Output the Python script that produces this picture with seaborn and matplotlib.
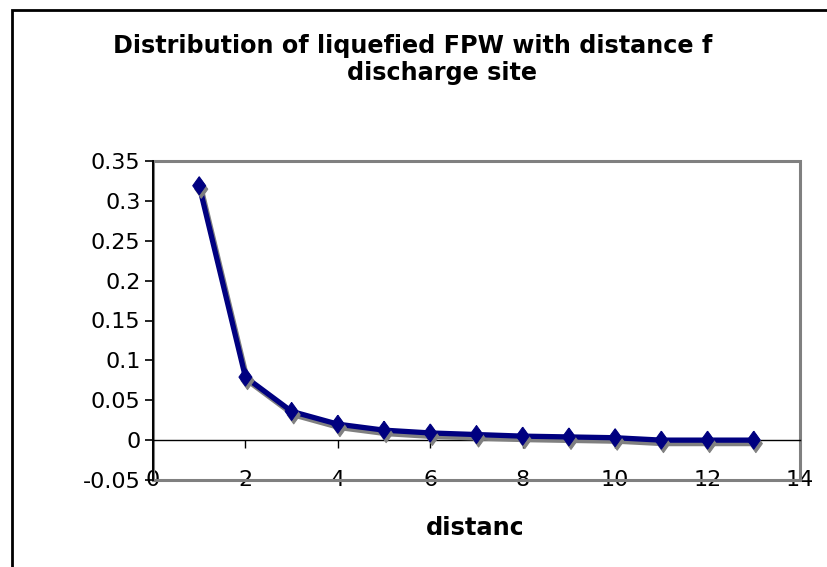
import matplotlib
matplotlib.use("Agg")
import matplotlib.pyplot as plt
import matplotlib.patheffects as pe
from matplotlib.colors import to_rgba
from matplotlib.patches import Rectangle
from matplotlib.ticker import FixedLocator, FixedFormatter
import seaborn as sns
import pandas as pd

# Series: share of liquefied FPW by distance
distance = [1, 2, 3, 4, 5, 6, 7, 8, 9, 10, 11, 12, 13]
share = [0.319, 0.079, 0.036, 0.020, 0.0125, 0.009, 0.007, 0.005, 0.004, 0.003, 0.0, 0.0, 0.0]

y_ticks = [-0.05, 0.0, 0.05, 0.1, 0.15, 0.2, 0.25, 0.3, 0.35]
y_tick_labels = ["-0.05", "0", "0.05", "0.1", "0.15", "0.2", "0.25", "0.3", "0.35"]
x_ticks = [0, 2, 4, 6, 8, 10, 12, 14]
x_tick_labels = ["0", "2", "4", "6", "8", "10", "12", "14"]

title_line1 = "Distribution of liquefied FPW with distance f"
title_line2 = "discharge site"
x_title = "distance"


class SolidShadow(pe.AbstractPathEffect):
    """Offset shadow that keeps filled paths (markers) filled."""

    def __init__(self, offset=(1.5, -2.5), color="#808080"):
        super().__init__(offset)
        self._color = to_rgba(color)

    def draw_path(self, renderer, gc, tpath, affine, rgbFace=None):
        gc0 = renderer.new_gc()
        gc0.copy_properties(gc)
        gc0.set_foreground(self._color)
        gc0.set_alpha(1.0)
        face = self._color if rgbFace is not None else None
        renderer.draw_path(gc0, tpath, affine + self._offset_transform(renderer), face)
        gc0.restore()


sns.set_style("white")
plt.rcParams["font.family"] = ["DejaVu Sans"]
plt.rcParams["axes.unicode_minus"] = False

W, H = 827, 567
fig = plt.figure(figsize=(W / 100, H / 100), dpi=100)
fig.patch.set_facecolor("white")

# plot area in pixel coordinates
L, R, T, B = 153, 800, 161, 480
ax = fig.add_axes([L / W, 1 - B / H, (R - L) / W, (B - T) / H])
ax.set_facecolor("white")

df = pd.DataFrame({"distance": distance, "share": share})
diamond = [(0, 1), (0.72, 0), (0, -1), (-0.72, 0), (0, 1)]
sns.lineplot(
    data=df, x="distance", y="share", ax=ax,
    color="#000080", linewidth=3.8, marker=diamond, markersize=13,
    markeredgecolor="#000080", markerfacecolor="#000080",
    path_effects=[SolidShadow(offset=(1.5, -2.5), color="#808080"), pe.Normal()],
    zorder=5, clip_on=False,
)

ax.set_xlim(0, 14)
ax.set_ylim(-0.05, 0.35)
ax.set_xlabel("")
ax.set_ylabel("")

# gray plot-area border
ax.add_patch(Rectangle((0, 0), 1, 1, transform=ax.transAxes, fill=False,
                       edgecolor="#808080", linewidth=2.2, clip_on=False, zorder=1))
for s in ("top", "right"):
    ax.spines[s].set_visible(False)

# value axis
ax.spines["left"].set_color("black")
ax.spines["left"].set_linewidth(1.4)
ax.spines["left"].set_zorder(3)
ax.yaxis.set_major_locator(FixedLocator(y_ticks))
ax.yaxis.set_major_formatter(FixedFormatter(y_tick_labels))
ax.tick_params(axis="y", left=True, direction="out", length=6, width=1.2,
               color="black", labelsize=16, pad=3, labelcolor="black")

# category axis line crossing at zero, tick marks only
ax.spines["bottom"].set_position(("data", 0))
ax.spines["bottom"].set_color("black")
ax.spines["bottom"].set_linewidth(1.0)
ax.spines["bottom"].set_zorder(3)
ax.xaxis.set_major_locator(FixedLocator(x_ticks[1:]))
ax.tick_params(axis="x", bottom=True, direction="out", length=6, width=1.0,
               color="black", labelbottom=False)

# tick labels along the lower edge of the plot area
sec = ax.secondary_xaxis(0)
sec.set_xticks(x_ticks)
sec.set_xticklabels(x_tick_labels)
sec.spines["bottom"].set_visible(False)
sec.tick_params(axis="x", length=0, labelsize=16, pad=-7, labelcolor="black")

# titles
fig.text(413 / W, 1 - 53 / H, title_line1, ha="center", va="baseline",
         fontsize=17.2, fontweight="bold", color="black")
fig.text(442 / W, 1 - 80 / H, title_line2, ha="center", va="baseline",
         fontsize=17.2, fontweight="bold", color="black")

# axis title; its text box is narrower than the word, so the end is hidden
fig.text(426 / W, 1 - 535 / H, x_title, ha="left", va="baseline",
         fontsize=17.4, fontweight="bold", color="black", zorder=2)
fig.add_artist(Rectangle((522 / W, 1 - 545 / H), 50 / W, 35 / H, transform=fig.transFigure,
                         facecolor="white", edgecolor="none", zorder=3))

# chart frame
fig.add_artist(Rectangle((12 / W, -0.1), 1.2, 1 - 10 / H + 0.1, transform=fig.transFigure,
                         fill=False, edgecolor="black", linewidth=2.0))

fig.savefig("out.png", dpi=100, facecolor="white")
